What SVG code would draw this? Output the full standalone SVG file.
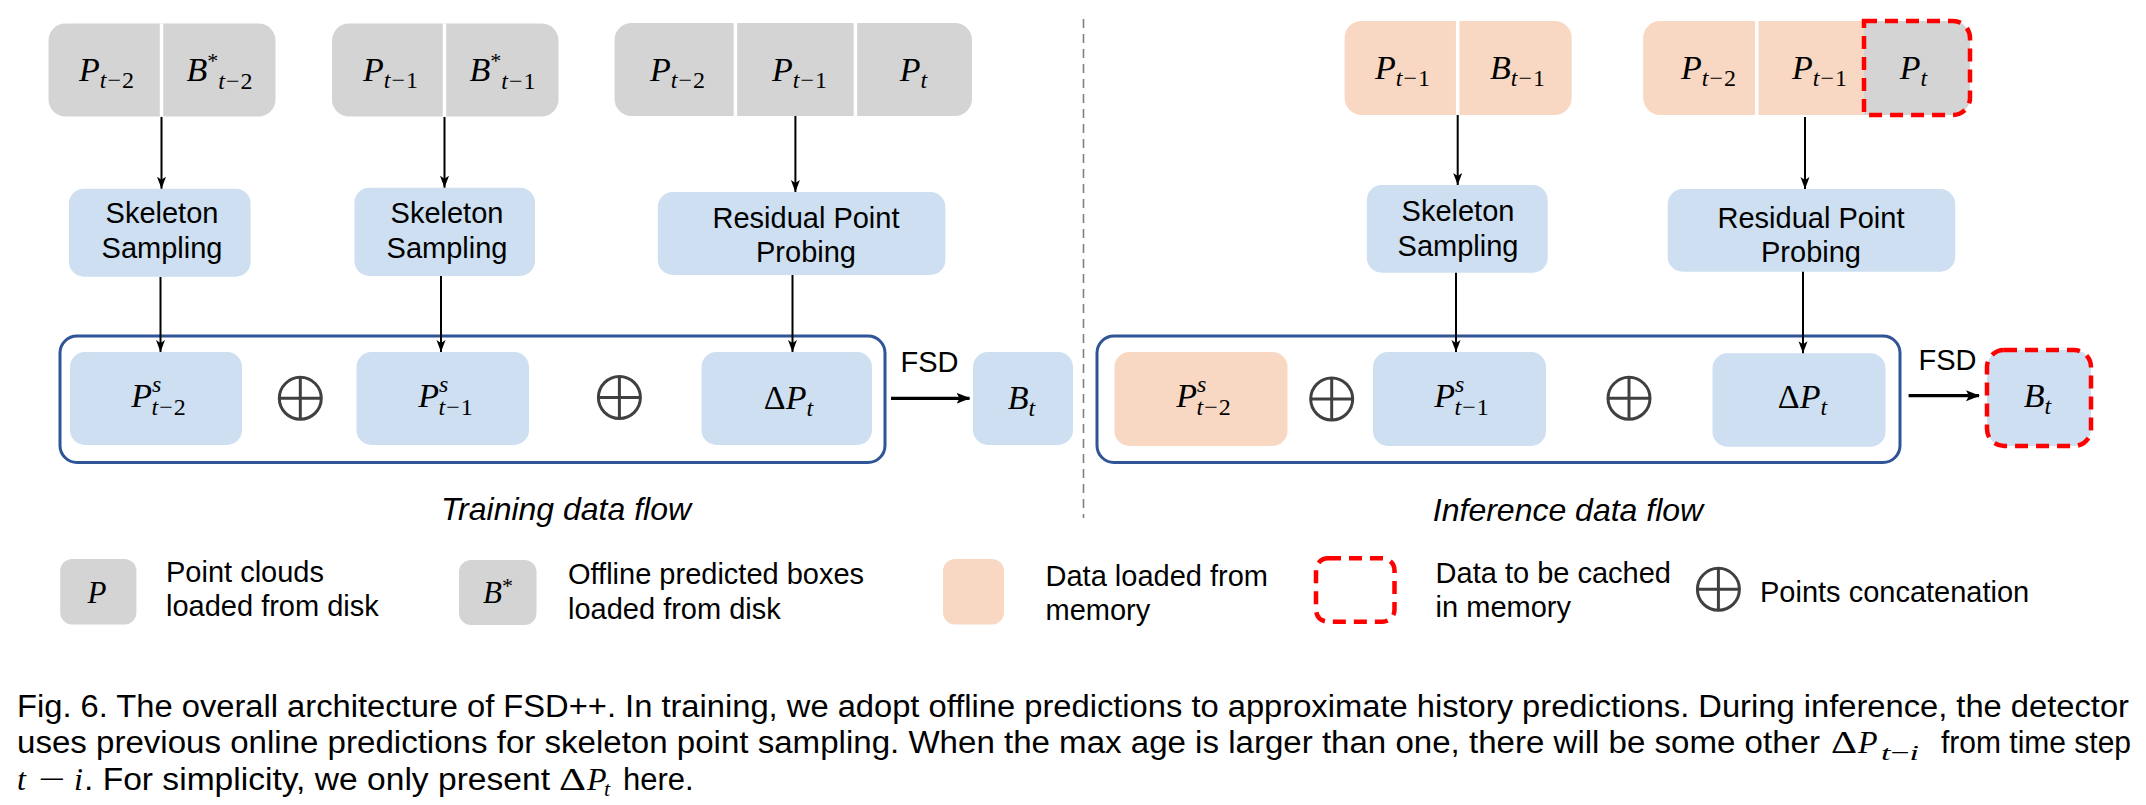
<svg xmlns="http://www.w3.org/2000/svg" width="2146" height="805" viewBox="0 0 2146 805">
<defs>
<style>
.gray{fill:#d5d4d5}
.blue{fill:#cddff0}
.peach{fill:#f8d8c3}
.div{stroke:#ffffff;stroke-width:3.5}
.lbl{font-family:"Liberation Sans",Arial,sans-serif;font-size:29px;fill:#000}
.ttl{font-family:"Liberation Sans",Arial,sans-serif;font-size:32px;font-style:italic;fill:#000}
.cap{font-family:"Liberation Sans",Arial,sans-serif;font-size:31px;fill:#000}
.m{font-family:"Liberation Serif","DejaVu Serif",serif;font-style:italic;font-size:34px;fill:#000}
.s{font-size:24px;letter-spacing:1px}
.ast{font-size:22px;font-style:normal}
.cm{font-family:"Liberation Serif","DejaVu Serif",serif;font-style:italic;font-size:32px;fill:#000}
.cs{font-size:22px}
.u{font-style:normal}
.cont{fill:none;stroke:#2f5597;stroke-width:3}
.red{fill:none;stroke:#ff0000;stroke-width:4.5;stroke-dasharray:13 8}
.oplus{fill:none;stroke:#404040;stroke-width:3}
.arr{stroke:#000;stroke-width:2;fill:none;marker-end:url(#ah)}
.arrb{stroke:#000;stroke-width:3.2;fill:none;marker-end:url(#ahb)}
.sep{stroke:#808080;stroke-width:1.6;stroke-dasharray:9 6;fill:none}
</style>
<marker id="ah" viewBox="0 0 12 10" refX="12" refY="5" markerWidth="12" markerHeight="10" markerUnits="userSpaceOnUse" orient="auto">
<path d="M0,0.5 L12,5 L0,9.5 L3,5 Z" fill="#000"/>
</marker>
<marker id="ahb" viewBox="0 0 14 12" refX="13" refY="6" markerWidth="14" markerHeight="12" markerUnits="userSpaceOnUse" orient="auto">
<path d="M0,0.5 L14,6 L0,11.5 L3,6 Z" fill="#000"/>
</marker>
<g id="op">
<circle cx="0" cy="0" r="21" class="oplus"/>
<line x1="-21" y1="0" x2="21" y2="0" class="oplus"/>
<line x1="0" y1="-21" x2="0" y2="21" class="oplus"/>
</g>
</defs>
<rect width="2146" height="805" fill="#ffffff"/>

<!-- ===== Training data flow ===== -->
<g id="train-input-t2">
<rect x="48.5" y="23.5" width="227" height="93" rx="17" class="gray"/>
<line x1="161.5" y1="23.5" x2="161.5" y2="116.5" class="div"/>
<text class="m" x="107" y="81" text-anchor="middle">P<tspan class="s" dy="7">t<tspan class="u">−2</tspan></tspan></text>
<text class="m" x="220" y="81" text-anchor="middle">B<tspan class="ast" dy="-13">*</tspan><tspan class="s" dx="0" dy="21">t<tspan class="u">−2</tspan></tspan></text>
</g>
<g id="train-input-t1">
<rect x="332" y="23.5" width="226.5" height="93" rx="17" class="gray"/>
<line x1="444.5" y1="23.5" x2="444.5" y2="116.5" class="div"/>
<text class="m" x="391" y="81" text-anchor="middle">P<tspan class="s" dy="7">t<tspan class="u">−1</tspan></tspan></text>
<text class="m" x="503" y="81" text-anchor="middle">B<tspan class="ast" dy="-13">*</tspan><tspan class="s" dx="0" dy="21">t<tspan class="u">−1</tspan></tspan></text>
</g>
<g id="train-input-t">
<rect x="614.5" y="23" width="357.5" height="93" rx="17" class="gray"/>
<line x1="735.4" y1="23" x2="735.4" y2="116" class="div"/>
<line x1="855.4" y1="23" x2="855.4" y2="116" class="div"/>
<text class="m" x="678" y="81" text-anchor="middle">P<tspan class="s" dy="7">t<tspan class="u">−2</tspan></tspan></text>
<text class="m" x="800" y="81" text-anchor="middle">P<tspan class="s" dy="7">t<tspan class="u">−1</tspan></tspan></text>
<text class="m" x="914" y="81" text-anchor="middle">P<tspan class="s" dy="7">t</tspan></text>
</g>
<g id="train-ss1">
<rect x="69" y="188.7" width="181.6" height="88" rx="15" class="blue"/>
<text class="lbl" x="162" y="222.7" text-anchor="middle">Skeleton</text>
<text class="lbl" x="162" y="258.3" text-anchor="middle">Sampling</text>
</g>
<g id="train-ss2">
<rect x="354.5" y="187.7" width="180.5" height="88.3" rx="15" class="blue"/>
<text class="lbl" x="447" y="222.7" text-anchor="middle">Skeleton</text>
<text class="lbl" x="447" y="258.3" text-anchor="middle">Sampling</text>
</g>
<g id="train-rpp">
<rect x="657.8" y="192" width="287.6" height="83" rx="15" class="blue"/>
<text class="lbl" x="806" y="227.7" text-anchor="middle">Residual Point</text>
<text class="lbl" x="806" y="261.7" text-anchor="middle">Probing</text>
</g>
<g id="train-concat">
<rect x="60" y="336" width="825" height="126.5" rx="17" class="cont"/>
<g id="train-ps2">
<rect x="70" y="352" width="172" height="93" rx="15" class="blue"/>
<text class="m" x="159" y="406.5" text-anchor="middle">P<tspan class="s" dy="-15">s</tspan><tspan class="s" dx="-11" dy="23.5">t<tspan class="u">−2</tspan></tspan></text>
</g>
<use href="#op" x="300.3" y="398.3"/>
<g id="train-ps1">
<rect x="356.5" y="352" width="172.5" height="93" rx="15" class="blue"/>
<text class="m" x="446" y="406.5" text-anchor="middle">P<tspan class="s" dy="-15">s</tspan><tspan class="s" dx="-11" dy="23.5">t<tspan class="u">−1</tspan></tspan></text>
</g>
<use href="#op" x="619.4" y="397.5"/>
<g id="train-dp">
<rect x="701.5" y="352" width="170.5" height="93" rx="15" class="blue"/>
<text class="m" x="789" y="409" text-anchor="middle"><tspan class="u">Δ</tspan>P<tspan class="s" dy="7">t</tspan></text>
</g>
</g>
<text class="lbl" x="929.5" y="371.7" text-anchor="middle">FSD</text>
<g id="train-bt">
<rect x="973" y="352" width="100" height="93" rx="15" class="blue"/>
<text class="m" x="1022" y="409" text-anchor="middle">B<tspan class="s" dy="7">t</tspan></text>
</g>
<text class="ttl" x="566" y="520" text-anchor="middle">Training data flow</text>

<!-- ===== Inference data flow ===== -->
<g id="inf-input-t1">
<rect x="1344.6" y="21" width="227.1" height="94" rx="17" class="peach"/>
<line x1="1457.7" y1="21" x2="1457.7" y2="115" class="div"/>
<text class="m" x="1403" y="78.5" text-anchor="middle">P<tspan class="s" dy="7">t<tspan class="u">−1</tspan></tspan></text>
<text class="m" x="1518" y="78.5" text-anchor="middle">B<tspan class="s" dy="7">t<tspan class="u">−1</tspan></tspan></text>
</g>
<g id="inf-input-t">
<path d="M1660.2,21 H1864 V115 H1660.2 A17,17 0 0 1 1643.2,98 V38 A17,17 0 0 1 1660.2,21 Z" class="peach"/>
<path d="M1864,21 H1953 A17,17 0 0 1 1970,38 V98 A17,17 0 0 1 1953,115 H1864 Z" class="gray"/>
<line x1="1756.8" y1="21" x2="1756.8" y2="115" class="div"/>
<path d="M1864,21 H1953 A17,17 0 0 1 1970,38 V98 A17,17 0 0 1 1953,115 H1864 Z" class="red"/>
<text class="m" x="1709" y="78.5" text-anchor="middle">P<tspan class="s" dy="7">t<tspan class="u">−2</tspan></tspan></text>
<text class="m" x="1820" y="78.5" text-anchor="middle">P<tspan class="s" dy="7">t<tspan class="u">−1</tspan></tspan></text>
<text class="m" x="1914" y="78.5" text-anchor="middle">P<tspan class="s" dy="7">t</tspan></text>
</g>
<g id="inf-ss">
<rect x="1366.8" y="185" width="180.9" height="87.7" rx="15" class="blue"/>
<text class="lbl" x="1458" y="220.7" text-anchor="middle">Skeleton</text>
<text class="lbl" x="1458" y="256" text-anchor="middle">Sampling</text>
</g>
<g id="inf-rpp">
<rect x="1667.7" y="189" width="287.5" height="82.7" rx="15" class="blue"/>
<text class="lbl" x="1811" y="227.7" text-anchor="middle">Residual Point</text>
<text class="lbl" x="1811" y="261.7" text-anchor="middle">Probing</text>
</g>
<g id="inf-concat">
<rect x="1097" y="336" width="803" height="126.5" rx="17" class="cont"/>
<g id="inf-ps2">
<rect x="1114.5" y="352" width="173" height="94" rx="15" class="peach"/>
<text class="m" x="1204" y="406.5" text-anchor="middle">P<tspan class="s" dy="-15">s</tspan><tspan class="s" dx="-11" dy="23.5">t<tspan class="u">−2</tspan></tspan></text>
</g>
<use href="#op" x="1331.7" y="399"/>
<g id="inf-ps1">
<rect x="1373" y="352" width="173" height="94" rx="15" class="blue"/>
<text class="m" x="1462" y="406.5" text-anchor="middle">P<tspan class="s" dy="-15">s</tspan><tspan class="s" dx="-11" dy="23.5">t<tspan class="u">−1</tspan></tspan></text>
</g>
<use href="#op" x="1629" y="398.3"/>
<g id="inf-dp">
<rect x="1712.5" y="353.3" width="173" height="93.4" rx="15" class="blue"/>
<text class="m" x="1803" y="408" text-anchor="middle"><tspan class="u">Δ</tspan>P<tspan class="s" dy="7">t</tspan></text>
</g>
</g>
<text class="lbl" x="1947.5" y="370" text-anchor="middle">FSD</text>
<g id="inf-bt">
<rect x="1987" y="350" width="104" height="96" rx="17" class="blue"/>
<rect x="1987" y="350" width="104" height="96" rx="17" class="red"/>
<text class="m" x="2038" y="407" text-anchor="middle">B<tspan class="s" dy="7">t</tspan></text>
</g>
<text class="ttl" x="1568" y="520.7" text-anchor="middle">Inference data flow</text>

<!-- ===== Connectors ===== -->
<g id="connectors">
<line class="sep" x1="1083.5" y1="19" x2="1083.5" y2="518"/>
<line class="arr" x1="161.5" y1="117" x2="161.5" y2="188.7"/>
<line class="arr" x1="160.5" y1="277" x2="160.5" y2="352"/>
<line class="arr" x1="444.5" y1="117" x2="444.5" y2="187.7"/>
<line class="arr" x1="441" y1="276" x2="441" y2="352"/>
<line class="arr" x1="795.4" y1="116" x2="795.4" y2="192"/>
<line class="arr" x1="792.5" y1="275" x2="792.5" y2="352"/>
<line class="arr" x1="1457.7" y1="115" x2="1457.7" y2="185"/>
<line class="arr" x1="1456" y1="272.7" x2="1456" y2="352"/>
<line class="arr" x1="1805" y1="117" x2="1805" y2="189"/>
<line class="arr" x1="1803" y1="271.7" x2="1803" y2="353.3"/>
<line class="arrb" x1="891" y1="398.3" x2="969.5" y2="398.3"/>
<line class="arrb" x1="1908.6" y1="395.7" x2="1979" y2="395.7"/>
</g>

<!-- ===== Legend ===== -->
<g id="legend-p">
<rect x="60.2" y="559" width="76.2" height="65.5" rx="12" class="gray"/>
<text class="m" x="97" y="602.7" text-anchor="middle" style="font-size:31px">P</text>
<text class="lbl" x="166" y="582">Point clouds</text>
<text class="lbl" x="166" y="616">loaded from disk</text>
</g>
<g id="legend-b">
<rect x="459" y="560" width="77.5" height="65" rx="12" class="gray"/>
<text class="m" x="498" y="602.7" text-anchor="middle" style="font-size:31px">B<tspan class="u" style="font-size:22px" dy="-10">*</tspan></text>
<text class="lbl" x="568" y="584">Offline predicted boxes</text>
<text class="lbl" x="568" y="619">loaded from disk</text>
</g>
<g id="legend-mem">
<rect x="943" y="559" width="61" height="65.5" rx="12" class="peach"/>
<text class="lbl" x="1045.5" y="586">Data loaded from</text>
<text class="lbl" x="1045.5" y="620">memory</text>
</g>
<g id="legend-cache">
<rect x="1316" y="558.3" width="78.5" height="63.4" rx="12" class="red"/>
<text class="lbl" x="1435.6" y="583.3">Data to be cached</text>
<text class="lbl" x="1435.6" y="617.3">in memory</text>
</g>
<g id="legend-concat">
<use href="#op" x="1718.4" y="589.3"/>
<text class="lbl" x="1760" y="601.7">Points concatenation</text>
</g>

<!-- ===== Caption ===== -->
<g id="caption">
<text class="cap" x="17" y="716.7" textLength="2112" lengthAdjust="spacingAndGlyphs">Fig. 6. The overall architecture of FSD++. In training, we adopt offline predictions to approximate history predictions. During inference, the detector</text>
<text class="cap" x="17" y="753.3" textLength="1803" lengthAdjust="spacingAndGlyphs">uses previous online predictions for skeleton point sampling. When the max age is larger than one, there will be some other</text>
<text class="cm u" x="1831" y="753.3" textLength="26" lengthAdjust="spacingAndGlyphs">Δ</text>
<text class="cm" x="1858" y="753.3">P</text>
<text class="cm cs" x="1881" y="759.5" textLength="38" lengthAdjust="spacingAndGlyphs">t<tspan class="u">−</tspan>i</text>
<text class="cap" x="2131" y="753.3" text-anchor="end" textLength="190" lengthAdjust="spacingAndGlyphs">from time step</text>
<text class="cm" x="17" y="790">t</text>
<text class="cm u" x="38" y="790" textLength="27" lengthAdjust="spacingAndGlyphs">−</text>
<text class="cm" x="74" y="790">i</text>
<text class="cap" x="84" y="790" textLength="466" lengthAdjust="spacingAndGlyphs">. For simplicity, we only present</text>
<text class="cm u" x="559" y="790" textLength="27" lengthAdjust="spacingAndGlyphs">Δ</text>
<text class="cm" x="587" y="790">P</text>
<text class="cm cs" x="604" y="796">t</text>
<text class="cap" x="623" y="790">here.</text>
</g>
</svg>
